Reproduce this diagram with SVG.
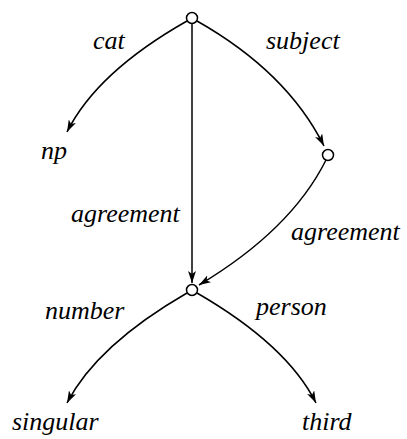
<svg xmlns="http://www.w3.org/2000/svg" width="407" height="439" viewBox="0 0 407 439">
<defs>
<marker id="arr" viewBox="0 0 12 8" refX="12" refY="4" markerWidth="12" markerHeight="8" markerUnits="userSpaceOnUse" orient="auto">
<path d="M0,0 L12,4 L0,8 L3,4 Z" fill="#000"/>
</marker>
</defs>
<rect width="407" height="439" fill="#fff"/>
<g id="connectors" fill="none" stroke="#000" stroke-width="1.5">
<path d="M187,21 Q97,72 67,132" marker-end="url(#arr)"/>
<path d="M197,21 Q287,72 324,146" marker-end="url(#arr)"/>
<path d="M192,24 L192,283" marker-end="url(#arr)"/>
<path d="M326,160 Q291,230 199,285" marker-end="url(#arr)"/>
<path d="M187,293 Q97,345 67,403" marker-end="url(#arr)"/>
<path d="M197,293 Q287,345 316,403" marker-end="url(#arr)"/>
</g>
<g id="edge-labels">
<text x="93" y="49" font-family="Liberation Serif, serif" font-size="26" font-style="italic">cat</text>
<text x="266" y="49" font-family="Liberation Serif, serif" font-size="26" font-style="italic">subject</text>
<text x="71" y="222" font-family="Liberation Serif, serif" font-size="26" font-style="italic">agreement</text>
<text x="291" y="240" font-family="Liberation Serif, serif" font-size="26" font-style="italic">agreement</text>
<text x="45" y="319" font-family="Liberation Serif, serif" font-size="26" font-style="italic">number</text>
<text x="256" y="315" font-family="Liberation Serif, serif" font-size="26" font-style="italic">person</text>
</g>
<g id="n-np"><text x="41" y="159" font-family="Liberation Serif, serif" font-size="26" font-style="italic">np</text></g>
<g id="n-singular"><text x="12" y="430" font-family="Liberation Serif, serif" font-size="26" font-style="italic">singular</text></g>
<g id="n-third"><text x="302" y="430" font-family="Liberation Serif, serif" font-size="26" font-style="italic">third</text></g>
<g id="n-root"><circle cx="192" cy="18" r="5.5" fill="#fff" stroke="#000" stroke-width="1.5"/></g>
<g id="n-subject"><circle cx="328" cy="155" r="5.5" fill="#fff" stroke="#000" stroke-width="1.5"/></g>
<g id="n-agr"><circle cx="192" cy="290" r="5.5" fill="#fff" stroke="#000" stroke-width="1.5"/></g>
</svg>
